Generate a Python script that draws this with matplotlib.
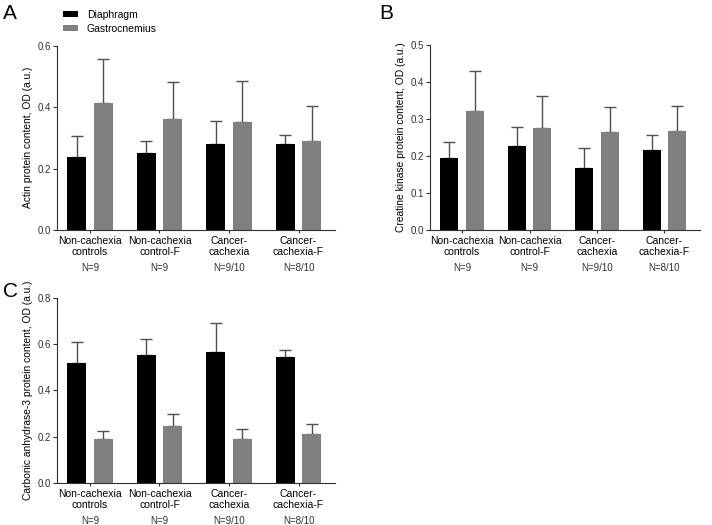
import matplotlib
matplotlib.use("Agg")
import matplotlib.pyplot as plt
import matplotlib.transforms as mtransforms
from matplotlib.patches import Patch
import numpy as np

plt.rcParams["font.family"] = ["Liberation Sans", "DejaVu Sans"]

groups = ["Non-cachexia\ncontrols", "Non-cachexia\ncontrol-F", "Cancer-\ncachexia", "Cancer-\ncachexia-F"]
n_labels = ["N=9", "N=9", "N=9/10", "N=8/10"]
series = ["Diaphragm", "Gastrocnemius"]
colors = ["#000000", "#808080"]

# Panel A: actin
actin_dia = [0.236, 0.251, 0.281, 0.279]
actin_dia_err = [0.070, 0.038, 0.073, 0.030]
actin_gas = [0.414, 0.361, 0.353, 0.288]
actin_gas_err = [0.143, 0.120, 0.132, 0.115]

# Panel B: creatine kinase
ck_dia = [0.195, 0.227, 0.168, 0.215]
ck_dia_err = [0.044, 0.052, 0.055, 0.043]
ck_gas = [0.323, 0.277, 0.264, 0.268]
ck_gas_err = [0.107, 0.086, 0.068, 0.067]

# Panel C: carbonic anhydrase-3
ca_dia = [0.520, 0.554, 0.565, 0.542]
ca_dia_err = [0.090, 0.066, 0.126, 0.033]
ca_gas = [0.190, 0.248, 0.192, 0.211]
ca_gas_err = [0.034, 0.049, 0.041, 0.042]

fig = plt.figure(figsize=(7.12, 5.25), dpi=100)


def draw_panel(rect, dia, dia_err, gas, gas_err, ymax, ystep, ylabel):
    ax = fig.add_axes(rect)
    x = np.arange(len(groups))
    w, off = 0.27, 0.19
    for xs, vals, errs, c in ((x - off, dia, dia_err, colors[0]), (x + off, gas, gas_err, colors[1])):
        ax.bar(xs, vals, width=w, color=c, zorder=2)
        ax.errorbar(xs, vals, yerr=[np.zeros(len(vals)), errs], fmt="none",
                    ecolor="#505050", elinewidth=1.0, capsize=4, capthick=1.0, zorder=1)
    ax.set_xlim(-0.475, 3.525)
    ax.set_ylim(0, ymax)
    ax.set_yticks(np.arange(0, ymax + 1e-9, ystep))
    ax.yaxis.set_major_formatter(matplotlib.ticker.FormatStrFormatter("%.1f"))
    ax.set_xticks(x)
    ax.set_xticklabels(groups, fontsize=7.5, linespacing=1.05)
    ax.tick_params(axis="y", labelsize=7, length=3, width=0.8, color="#303030",
                   labelcolor="#303030", pad=1.5)
    ax.tick_params(axis="x", length=2.5, width=0.8, color="#303030", pad=2)
    for s in ("top", "right"):
        ax.spines[s].set_visible(False)
    for s in ("left", "bottom"):
        ax.spines[s].set_color("#303030")
        ax.spines[s].set_linewidth(0.8)
    ax.set_ylabel(ylabel, fontsize=7.4, labelpad=3)
    trans = mtransforms.blended_transform_factory(ax.transData, ax.transAxes)
    for xi, n in zip(x, n_labels):
        ax.text(xi, -0.205, n, transform=trans, ha="center", va="center",
                fontsize=7, color="#303030")
    return ax


ax_a = draw_panel([0.080, 0.562, 0.3905, 0.351], actin_dia, actin_dia_err,
                  actin_gas, actin_gas_err, 0.6, 0.2, "Actin protein content, OD (a.u.)")
ax_b = draw_panel([0.604, 0.562, 0.379, 0.352], ck_dia, ck_dia_err,
                  ck_gas, ck_gas_err, 0.5, 0.1, "Creatine kinase protein content, OD (a.u.)")
ax_c = draw_panel([0.080, 0.080, 0.3905, 0.353], ca_dia, ca_dia_err,
                  ca_gas, ca_gas_err, 0.8, 0.2, "Carbonic anhydrase-3 protein content, OD (a.u.)")

fig.text(0.004, 0.992, "A", fontsize=15, va="top", ha="left")
fig.text(0.532, 0.992, "B", fontsize=15, va="top", ha="left")
fig.text(0.004, 0.462, "C", fontsize=15, va="top", ha="left")

handles = [Patch(facecolor=c, edgecolor="none") for c in colors]
fig.legend(handles, series, loc="upper left", bbox_to_anchor=(0.078, 0.995), frameon=False,
           fontsize=7.5, handlelength=1.5, handleheight=0.5, handletextpad=0.8,
           labelspacing=0.35, borderaxespad=0.3)

fig.savefig("out.png", dpi=100, facecolor="white")
